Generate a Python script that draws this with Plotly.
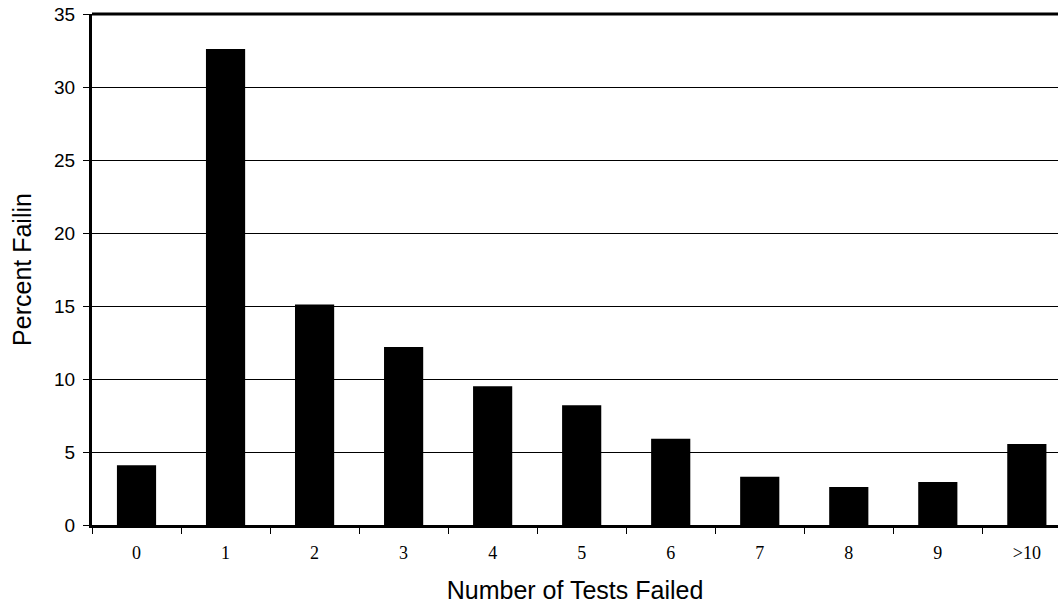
import plotly.graph_objects as go

categories = ["0", "1", "2", "3", "4", "5", "6", "7", "8", "9", ">10"]
percent_failing = [4.1, 32.6, 15.1, 12.2, 9.5, 8.2, 5.9, 3.3, 2.6, 2.95, 5.55]

fig = go.Figure()
fig.add_trace(go.Bar(
    x=categories, y=percent_failing,
    marker=dict(color="black", line=dict(width=0)),
    width=0.44,
))

fig.update_layout(
    width=1058, height=609,
    margin=dict(l=92, r=0, t=14, b=84),
    paper_bgcolor="white", plot_bgcolor="white",
    showlegend=False,
    font=dict(family="Liberation Sans, Arial, sans-serif", color="black"),
)
fig.update_xaxes(
    type="category",
    range=[-0.5, 10.35],
    showline=True, linecolor="black", linewidth=3,
    ticks="outside", ticklen=6, tickwidth=1, tickcolor="black",
    tickson="boundaries",
    showgrid=False,
    tickfont=dict(family="Liberation Serif, Times New Roman, serif", size=18),
    ticklabelstandoff=9,
    title=dict(text="Number of Tests Failed", font=dict(size=25), standoff=20),
    automargin=False,
)
fig.update_yaxes(
    range=[0, 35], dtick=5,
    showline=True, linecolor="black", linewidth=3,
    ticks="outside", ticklen=6, tickwidth=1, tickcolor="black",
    showgrid=True, gridcolor="black", gridwidth=1,
    zeroline=False,
    tickfont=dict(size=19),
    ticklabelstandoff=4,
    ticklabeloverflow="allow",
    title=dict(text="Percent Failin", font=dict(size=25), standoff=16),
    automargin=False,
)
fig.add_shape(type="line", xref="paper", yref="paper", x0=0, x1=1, y0=1, y1=1,
              line=dict(color="black", width=3))

fig.write_html(
    "out.html",
    config={"displayModeBar": False},
    post_script="document.body.style.margin='0';document.body.style.padding='0';",
)
